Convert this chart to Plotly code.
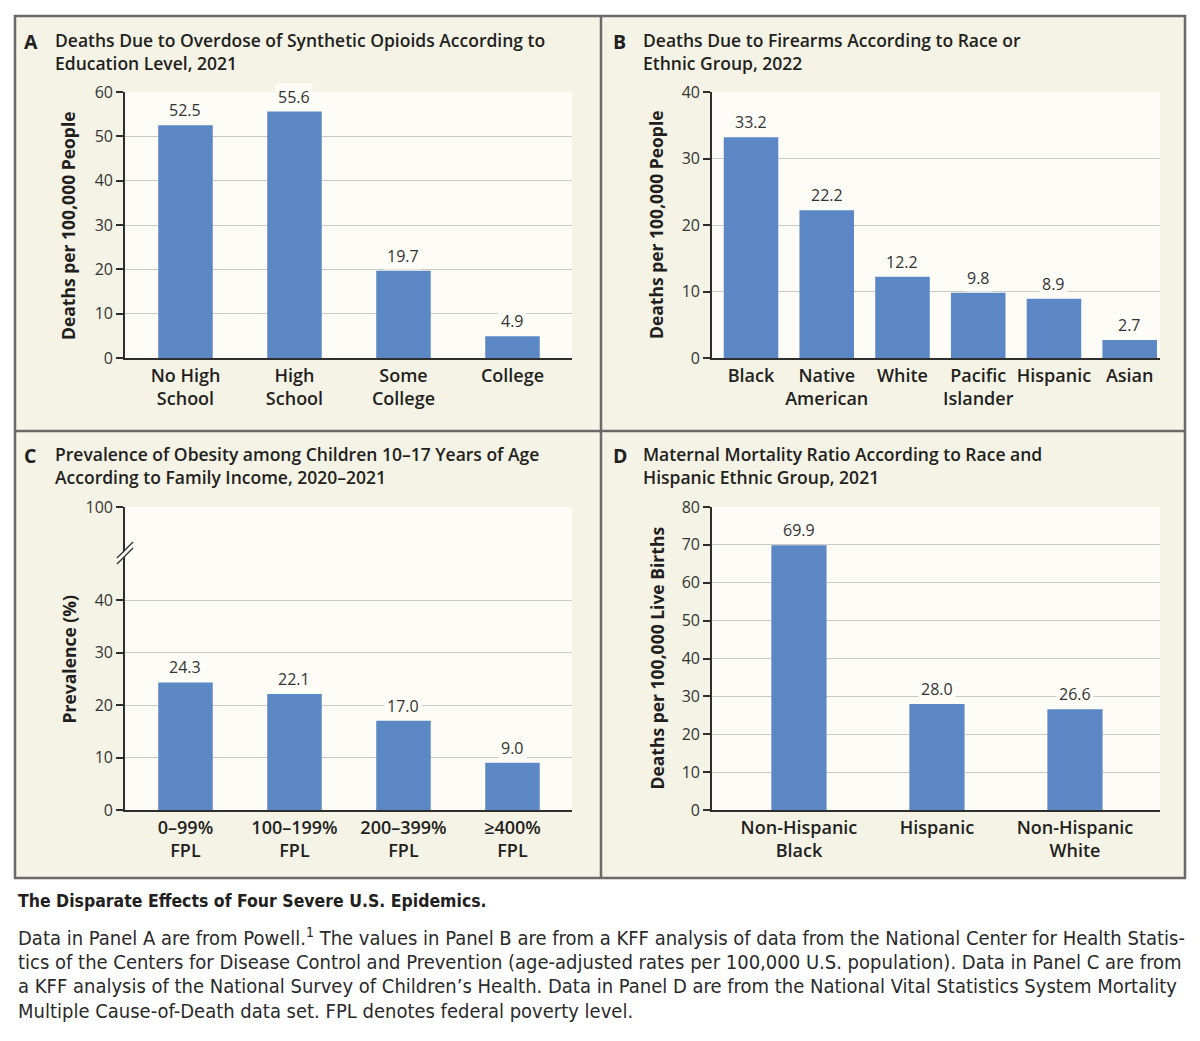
import plotly.graph_objects as go

# ---------------- data ----------------
A_cats = ["No High<br>School", "High<br>School", "Some<br>College", "College"]
A_vals = [52.5, 55.6, 19.7, 4.9]
A_ticks = [0, 10, 20, 30, 40, 50, 60]

B_cats = ["Black", "Native<br>American", "White", "Pacific<br>Islander", "Hispanic", "Asian"]
B_vals = [33.2, 22.2, 12.2, 9.8, 8.9, 2.7]
B_ticks = [0, 10, 20, 30, 40]

C_cats = ["0–99%<br>FPL", "100–199%<br>FPL", "200–399%<br>FPL", "≥400%<br>FPL"]
C_vals = [24.3, 22.1, 17.0, 9.0]
C_ticks = [0, 10, 20, 30, 40]
C_top_label = "100"

D_cats = ["Non-Hispanic<br>Black", "Hispanic", "Non-Hispanic<br>White"]
D_vals = [69.9, 28.0, 26.6]
D_ticks = [0, 10, 20, 30, 40, 50, 60, 70, 80]

titles = [
    ("A", "Deaths Due to Overdose of Synthetic Opioids According to<br>Education Level, 2021"),
    ("B", "Deaths Due to Firearms According to Race or<br>Ethnic Group, 2022"),
    ("C", "Prevalence of Obesity among Children 10–17 Years of Age<br>According to Family Income, 2020–2021"),
    ("D", "Maternal Mortality Ratio According to Race and<br>Hispanic Ethnic Group, 2021"),
]
ytitles = ["Deaths per 100,000 People", "Deaths per 100,000 People",
           "Prevalence (%)", "Deaths per 100,000 Live Births"]

caption_title = "The Disparate Effects of Four Severe U.S. Epidemics."
caption_lines = [
    "Data in Panel A are from Powell.<sup>1</sup> The values in Panel B are from a KFF analysis of data from the National Center for Health Statis-",
    "tics of the Centers for Disease Control and Prevention (age-adjusted rates per 100,000 U.S. population). Data in Panel C are from",
    "a KFF analysis of the National Survey of Children’s Health. Data in Panel D are from the National Vital Statistics System Mortality",
    "Multiple Cause-of-Death data set. FPL denotes federal poverty level.",
]

# ---------------- style ----------------
FONT = "Open Sans, Lato, Noto Sans, sans-serif"
CAPFONT = "Liberation Sans Narrow, DejaVu Sans Condensed, Lato, sans-serif"
BAR = "#5b87c4"
PANEL_BG = "#f5f3e6"
PLOT_BG = "#fdfcf6"
GRID = "#c9c9c6"
AX = "#2e2e2e"
BORDER = "#6a6a6a"
TXT = "#231f20"

# page body margin compensation (window pixels -> figure pixels)
OX, OY = 8, 8
W, H = 1200 - OX, 1041 - OY


def px(x):
    return (x - OX) / W


def py(y):
    return 1 - (y - OY) / H


# pixel geometry (window coords) of each plot area: (left, right, top, bottom)
geom = [
    (125, 572, 92, 358),
    (712, 1160, 92, 358),
    (125, 572, 507, 810),
    (712, 1160, 507, 810),
]
xranges = [[-0.555, 3.546], [-0.515, 5.40], [-0.555, 3.546], [-0.63, 2.616]]
bwidths = [0.5, 0.72, 0.5, 0.4]
C_scale = (810 - 600) / 40.0
C_top = (810 - 507) / C_scale
yranges = [[0, 60], [0, 40], [0, C_top], [0, 80]]
tickvals = [A_ticks, B_ticks, C_ticks + [C_top], D_ticks]
ticktext = [[str(t) for t in A_ticks], [str(t) for t in B_ticks],
            [str(t) for t in C_ticks] + [C_top_label], [str(t) for t in D_ticks]]

cats = [A_cats, B_cats, C_cats, D_cats]
vals = [A_vals, B_vals, C_vals, D_vals]

fig = go.Figure()
layout = {}
annotations = []
shapes = []

shapes.append(dict(type="rect", xref="paper", yref="paper", layer="below",
                   x0=px(15), x1=px(1185), y0=py(878), y1=py(16),
                   fillcolor=PANEL_BG, line=dict(color=BORDER, width=2.5)))
shapes.append(dict(type="line", xref="paper", yref="paper", layer="below",
                   x0=px(601), x1=px(601), y0=py(878), y1=py(16),
                   line=dict(color=BORDER, width=2.5)))
shapes.append(dict(type="line", xref="paper", yref="paper", layer="below",
                   x0=px(15), x1=px(1185), y0=py(431), y1=py(431),
                   line=dict(color=BORDER, width=2.5)))

for i in range(4):
    l, r, t, b = geom[i]
    n = "" if i == 0 else str(i + 1)
    xa, ya = "x" + n, "y" + n
    shapes.append(dict(type="rect", xref="paper", yref="paper", layer="below",
                       x0=px(l), x1=px(r), y0=py(b), y1=py(t),
                       fillcolor=PLOT_BG, line=dict(width=0)))
    fig.add_trace(go.Bar(x=cats[i], y=vals[i], xaxis=xa, yaxis=ya,
                         marker=dict(color=BAR, line=dict(width=0)),
                         width=bwidths[i], showlegend=False, hoverinfo="x+y"))
    layout["xaxis" + n] = dict(
        domain=[px(l), px(r)], anchor=ya, type="category", range=xranges[i],
        showline=True, linecolor=AX, linewidth=2, ticks="", showgrid=False,
        tickfont=dict(family=FONT, size=18, color=TXT, weight=600),
        fixedrange=True, automargin=False,
    )
    layout["yaxis" + n] = dict(
        domain=[py(b), py(t)], anchor=xa, range=yranges[i],
        tickmode="array", tickvals=tickvals[i], ticktext=ticktext[i],
        showline=True, linecolor=AX, linewidth=1.6, ticks="outside",
        ticklen=7, tickwidth=1.5, tickcolor=AX,
        showgrid=True, gridcolor=GRID, gridwidth=1.2, zeroline=False,
        tickfont=dict(family=FONT, size=16, color="#333333"),
        fixedrange=True, automargin=False,
    )
    for c, v in zip(cats[i], vals[i]):
        annotations.append(dict(
            x=c, y=v, xref=xa, yref=ya, text=f"{v:.1f}", showarrow=False,
            yanchor="bottom", yshift=1, bgcolor=PLOT_BG, borderpad=2,
            font=dict(family=FONT, size=16, color="#333333"),
        ))
    annotations.append(dict(
        x=px(68 if i % 2 == 0 else 656), y=py((t + b) / 2), xref="paper", yref="paper",
        xanchor="center", yanchor="middle",
        text=ytitles[i], textangle=-90, showarrow=False,
        font=dict(family=FONT, size=17.5, color=TXT, weight=700),
    ))
    lx = 22 if i % 2 == 0 else 611
    tx = 53 if i % 2 == 0 else 641
    ty = 26 if i < 2 else 440
    annotations.append(dict(
        x=px(lx), y=py(ty), xref="paper", yref="paper", xanchor="left", yanchor="top",
        text=titles[i][0], showarrow=False,
        font=dict(family=FONT, size=19.5, color=TXT, weight=700),
    ))
    annotations.append(dict(
        x=px(tx), y=py(ty), xref="paper", yref="paper", xanchor="left", yanchor="top",
        text=titles[i][1], showarrow=False, align="left",
        font=dict(family=FONT, size=17.5, color=TXT, weight=600),
    ))

# axis break marks on panel C
shapes.append(dict(type="path", xref="paper", yref="paper", layer="above",
                   path=f"M {px(118)} {py(558)} L {px(132)} {py(543)} L {px(132)} {py(549)} L {px(118)} {py(564)} Z",
                   fillcolor=PLOT_BG, line=dict(width=0)))
for dy in (0, 6):
    shapes.append(dict(type="line", xref="paper", yref="paper", layer="above",
                       x0=px(117), y0=py(558 + dy), x1=px(133), y1=py(542 + dy),
                       line=dict(color=AX, width=1.3)))

# caption
annotations.append(dict(
    x=px(16), y=py(901), xref="paper", yref="paper", xanchor="left", yanchor="middle",
    text=caption_title, showarrow=False,
    font=dict(family=CAPFONT, size=17.5, color=TXT, weight=700),
))
for k, line in enumerate(caption_lines):
    annotations.append(dict(
        x=px(16), y=py(937 + 24.5 * k), xref="paper", yref="paper",
        xanchor="left", yanchor="middle", text=line, showarrow=False,
        font=dict(family=CAPFONT, size=20, color="#2a2a2a"),
    ))

layout.update(dict(
    width=W, height=H, margin=dict(l=0, r=0, t=0, b=0, pad=0, autoexpand=False),
    paper_bgcolor="white", plot_bgcolor="rgba(0,0,0,0)",
    annotations=annotations, shapes=shapes, showlegend=False,
    bargap=0.5, font=dict(family=FONT),
))
fig.update_layout(**layout)
fig.write_html("out.html", config={"displayModeBar": False})
